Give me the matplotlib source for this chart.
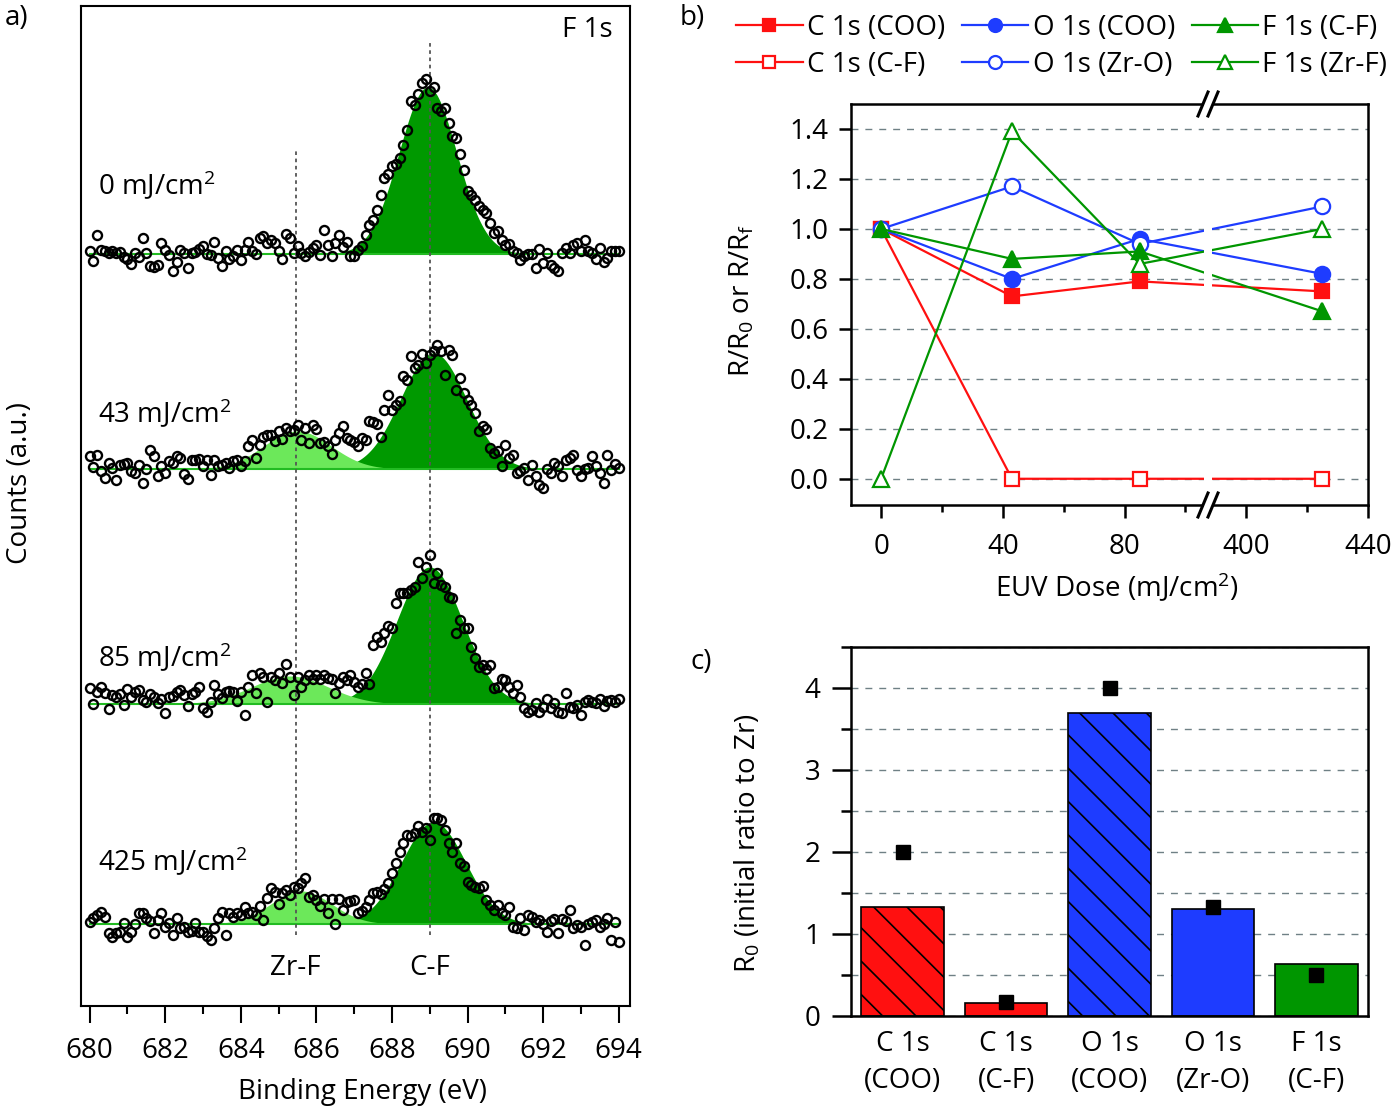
import numpy as np
import matplotlib
matplotlib.use("Agg")
import matplotlib.pyplot as plt
from matplotlib.lines import Line2D
from matplotlib.ticker import MultipleLocator

plt.rcParams['font.family'] = ['Open Sans', 'DejaVu Sans']
plt.rcParams['font.size'] = 20
plt.rcParams['mathtext.fontset'] = 'custom'
plt.rcParams['mathtext.rm'] = 'Open Sans'
plt.rcParams['mathtext.it'] = 'Open Sans:italic'
plt.rcParams['hatch.linewidth'] = 1.2

# ---- panel a: F 1s spectra (height above baseline, a.u.), 0.1 eV steps from 680 eV
e_start, e_step = 680.0, 0.1
spec_0 = [3, -7, 19, 4, 3, 1, 3, 1, 2, -3,
          -5, -10, 1, -3, 16, 1, -12, -13, -11, 11,
          4, -1, -17, -8, 4, 1, -14, 1, 2, 5,
          8, 0, -1, 12, -4, -12, 3, -5, -2, 4,
          -6, 4, 12, 3, 0, 16, 18, 11, 14, 11,
          3, -5, 20, 16, 1, 8, 1, -2, 2, 6,
          9, -1, 24, 9, -2, 11, 19, 7, 12, -2,
          -2, 4, 8, 19, 29, 34, 44, 59, 76, 80,
          88, 90, 96, 109, 124, 153, 149, 160, 171, 175,
          163, 167, 146, 143, 146, 131, 118, 116, 100, 84,
          63, 59, 54, 48, 44, 41, 31, 21, 23, 14,
          9, 10, 3, 1, -6, -2, 0, 0, -14, 5,
          -9, 1, -11, -14, -17, 1, 6, 1, 9, 11,
          3, 14, 3, 1, -5, 6, -8, -4, 3, 3,
          3]
spec_43 = [13, 2, 14, -2, -9, 6, 1, -11, 4, 5,
           6, -2, -4, 4, -14, 0, 19, 13, -7, 3,
           -4, 8, 6, 13, 11, -5, -10, 9, 9, 10,
           3, 9, -6, 9, 3, 4, 6, 1, 8, 9,
           3, 8, 23, 29, 11, 24, 32, 34, 34, 28,
           38, 30, 41, 38, 39, 44, 29, 41, 26, 44,
           40, 26, 27, 23, 15, 29, 36, 43, 31, 29,
           27, 23, 31, 29, 48, 47, 45, 32, 59, 74,
           59, 64, 68, 93, 89, 113, 101, 104, 115, 106,
           114, 118, 124, 118, 94, 119, 114, 79, 91, 76,
           69, 64, 56, 38, 43, 40, 21, 16, 18, 3,
           24, 11, 14, -4, -2, 1, -11, 4, -7, -16,
           -19, 0, -4, 6, 3, -7, 9, 11, 14, -1,
           -7, 0, 1, 13, 3, -4, -14, 14, -1, 5,
           1]
spec_85 = [16, 0, 12, 17, 11, -5, 9, 7, 10, -1,
           15, 7, 12, 14, 4, 2, 10, 7, 1, 5,
           -9, 7, 8, 12, 14, 9, -2, 10, 12, 17,
           -4, -8, 2, 19, 10, 6, 12, 13, 12, 3,
           12, -11, 17, 29, 11, 31, 27, 2, 27, 24,
           31, 21, 40, 27, 9, 27, 17, 24, 29, 25,
           29, 25, 29, 26, 25, 11, 21, 27, 24, 29,
           22, 17, 20, 31, 20, 59, 67, 62, 71, 78,
           76, 101, 111, 111, 111, 114, 117, 142, 126, 137,
           149, 121, 131, 119, 117, 107, 106, 71, 84, 76,
           76, 57, 46, 37, 39, 35, 39, 16, 17, 25,
           24, 17, 11, 19, 7, -4, -8, -6, 1, -8,
           -3, 5, -4, 1, -8, -9, 11, -3, -4, -1,
           -11, 2, 4, 2, 1, 5, -2, 3, 4, 2,
           5]
spec_425 = [2, 6, 9, 12, 7, -9, -13, -9, -8, 1,
            -13, -8, 0, 11, 11, 6, 3, -9, 4, 11,
            -3, 1, -11, 6, -4, -3, -8, -7, 1, -8,
            -8, -12, -16, -4, 6, 12, -11, 11, 7, 11,
            9, 17, 11, 12, 9, 18, 4, 26, 36, 32,
            20, 31, 34, 29, 37, 36, 41, 46, 27, 29,
            24, 18, 25, 11, 25, 0, 25, 14, 22, 23,
            24, 11, 13, 17, 24, 31, 32, 30, 35, 41,
            51, 61, 72, 81, 89, 88, 91, 98, 92, 96,
            84, 106, 106, 104, 94, 81, 72, 81, 61, 58,
            42, 39, 37, 36, 38, 24, 19, 14, 19, 11,
            9, 17, -3, -4, 6, -6, 9, 7, 2, 4,
            0, -8, 3, 5, -9, 5, 3, 14, -4, -1,
            -3, -21, 0, 2, 4, -3, 0, 6, -16, 2,
            -18]
spectra = [spec_0, spec_43, spec_85, spec_425]
dose_labels = ["0 mJ/cm$^2$", "43 mJ/cm$^2$", "85 mJ/cm$^2$", "425 mJ/cm$^2$"]
offsets = [752, 537, 302, 82]
label_y = [821, 593, 349, 144]

# fitted components: C-F and Zr-F (center eV, height, FWHM eV)
cf_center = [688.95, 689.1, 689.0, 689.1]
cf_height = [167, 116, 137, 102]
cf_fwhm = [1.8, 2.05, 2.05, 2.0]
zrf_center = [685.5, 685.5, 685.3, 685.6]
zrf_height = [0, 38, 28, 33]
zrf_fwhm = [2.0, 2.1, 2.4, 1.9]
zrf_pos, cf_pos = 685.45, 689.0

# ---- panel b: normalised ratios
dose = [0, 43, 85, 425]
c_coo = [1.0, 0.73, 0.79, 0.75]
c_cf = [1.0, 0.0, 0.0, 0.0]
o_coo = [1.0, 0.80, 0.96, 0.82]
o_zro = [1.0, 1.17, 0.94, 1.09]
f_cf = [1.0, 0.88, 0.91, 0.67]
f_zrf = [0.0, 1.39, 0.86, 1.0]
break_lo, break_hi = 108.8, 388.8   # dose range cut out of the axis

# ---- panel c: initial ratios to Zr
r0_names = ["C 1s\n(COO)", "C 1s\n(C-F)", "O 1s\n(COO)", "O 1s\n(Zr-O)", "F 1s\n(C-F)"]
r0_bar = [1.33, 0.16, 3.70, 1.31, 0.63]
r0_point = [2.0, 0.17, 4.0, 1.33, 0.5]

RED, BLUE, GREEN = '#ff1010', '#1e3cff', '#009600'
DARK_FILL, LIGHT_FILL = '#009900', '#6ce85a'
GRID = '#6f8085'

W, H = 1399, 1114
fig = plt.figure(figsize=(W / 100, H / 100), dpi=100)


def box(x0, y0, x1, y1):
    return [x0 / W, 1 - y1 / H, (x1 - x0) / W, (y1 - y0) / H]


def gauss(x, c, h, fwhm):
    return h * np.exp(-4 * np.log(2) * (x - c) ** 2 / fwhm ** 2)


# ================= panel a
ax_a = fig.add_axes(box(81, 6, 630, 1006))
ax_a.set_xlim(679.77, 694.3)
ax_a.set_ylim(0, 1000)
xf = np.linspace(679.77, 694.3, 900)
for i, h in enumerate(spectra):
    off = offsets[i]
    energy = e_start + e_step * np.arange(len(h))
    ax_a.fill_between(xf, off, off + gauss(xf, cf_center[i], cf_height[i], cf_fwhm[i]),
                      color=DARK_FILL, lw=0, zorder=2)
    if zrf_height[i] > 0:
        ax_a.fill_between(xf, off, off + gauss(xf, zrf_center[i], zrf_height[i], zrf_fwhm[i]),
                          color=LIGHT_FILL, lw=0, zorder=3)
    ax_a.plot([energy[0], energy[-1]], [off, off], color='#22bb22', lw=1.5, zorder=3)
    ax_a.plot(energy, off + np.array(h), 'o', mfc='none', mec='black', ms=6.5, mew=1.7, zorder=5)
    ax_a.text(680.22, label_y[i], dose_labels[i], ha='left', va='center', fontsize=20)

ax_a.axvline(zrf_pos, ymin=0.071, ymax=0.858, color='#555555', lw=1.3, ls=(0, (2, 2)), zorder=4)
ax_a.axvline(cf_pos, ymin=0.071, ymax=0.966, color='#555555', lw=1.3, ls=(0, (2, 2)), zorder=4)
ax_a.text(zrf_pos, 38, "Zr-F", ha='center', va='center', fontsize=20)
ax_a.text(cf_pos, 38, "C-F", ha='center', va='center', fontsize=20)
ax_a.text(693.85, 976, "F 1s", ha='right', va='center', fontsize=20)
ax_a.set_xticks(np.arange(680, 695, 2))
ax_a.xaxis.set_minor_locator(MultipleLocator(1))
ax_a.set_yticks([])
ax_a.tick_params(which='major', direction='out', length=12, width=1.5, pad=10)
ax_a.tick_params(which='minor', direction='out', length=6, width=1.5)
for s in ax_a.spines.values():
    s.set_linewidth(1.5)

# ================= panel b (broken x axis through a function scale)
ax_b = fig.add_axes(box(851, 104, 1368, 505))
gap = break_hi - break_lo


def fwd(x):
    x = np.asarray(x, dtype=float)
    return np.where(x <= break_lo, x, np.where(x >= break_hi, x - gap, break_lo))


def inv(x):
    x = np.asarray(x, dtype=float)
    return np.where(x <= break_lo, x, x + gap)


ax_b.set_xscale('function', functions=(fwd, inv))
series = [
    (c_coo, RED, 's', RED, 10, "C 1s (COO)"),
    (c_cf, RED, 's', 'white', 10, "C 1s (C-F)"),
    (o_coo, BLUE, 'o', BLUE, 11, "O 1s (COO)"),
    (o_zro, BLUE, 'o', 'white', 11, "O 1s (Zr-O)"),
    (f_cf, GREEN, '^', GREEN, 12, "F 1s (C-F)"),
    (f_zrf, GREEN, '^', 'white', 12, "F 1s (Zr-F)"),
]
handles = []
for vals, col, mk, fc, ms, lab in series:
    ln, = ax_b.plot(dose, vals, color=col, lw=1.6, marker=mk, mfc=fc, mec=col,
                    ms=ms, mew=1.6, label=lab, zorder=3)
    handles.append(ln)
ax_b.set_xlim(-9.9, 440)
ax_b.set_ylim(-0.105, 1.5)
ax_b.set_xticks([0, 40, 80, 400, 440])
ax_b.set_xticklabels(["0", "40", "80", "400", "440"])
ax_b.set_xticks([20, 60, 100, 420], minor=True)
ax_b.set_yticks(np.arange(0, 1.41, 0.2))
ax_b.set_yticklabels(["%.1f" % v for v in np.arange(0, 1.41, 0.2)])
ax_b.yaxis.grid(True, ls=(0, (5, 5)), color=GRID, lw=1)
ax_b.set_axisbelow(True)
ax_b.tick_params(which='major', direction='out', length=9, width=1.8, pad=7)
ax_b.tick_params(axis='x', which='major', pad=11)
ax_b.tick_params(which='minor', direction='out', length=5, width=1.8)
for s in ax_b.spines.values():
    s.set_linewidth(1.8)
# white gap at the break, then the // marks
ax_b.axvspan(break_lo - 2.8, break_lo + 1.5, ymin=-0.02, ymax=1.02, color='white',
             lw=0, zorder=6, clip_on=False)
for yc in (104, 505):
    for xc in (1203, 1213):
        fig.add_artist(Line2D([(xc - 5) / W, (xc + 5) / W],
                              [1 - (yc + 12) / H, 1 - (yc - 12) / H],
                              color='black', lw=2.2))

fig.legend(handles=handles, loc='upper left', bbox_to_anchor=(736 / W, 1 - 14 / H),
           ncol=3, frameon=False, handlelength=2.4, handletextpad=0.15,
           columnspacing=0.6, labelspacing=0.33, borderpad=0, borderaxespad=0,
           fontsize=20, markerscale=0.85)
fig.text(742 / W, 1 - 300 / H, "R/R$_\\mathregular{0}$ or R/R$_\\mathregular{f}$",
         rotation=90, ha='center', va='center', fontsize=20)
fig.text(1117 / W, 1 - 587 / H, "EUV Dose (mJ/cm$^2$)", ha='center', va='center', fontsize=20)

# ================= panel c
ax_c = fig.add_axes(box(851, 647, 1368, 1016))
xpos = np.arange(len(r0_bar))
bars = ax_c.bar(xpos, r0_bar, width=0.8, color=[RED, RED, BLUE, BLUE, GREEN],
                edgecolor='black', lw=1.2, zorder=2)
for b, hatch in zip(bars, ['\\', '', '\\', '', '']):
    b.set_hatch(hatch)
ax_c.plot(xpos, r0_point, 's', color='black', ms=10, zorder=4)
ax_c.set_xlim(-0.5, 4.5)
ax_c.set_ylim(0, 4.5)
ax_c.set_yticks([0, 1, 2, 3, 4])
ax_c.yaxis.set_minor_locator(MultipleLocator(0.5))
ax_c.yaxis.grid(True, which='both', ls=(0, (5, 5)), color=GRID, lw=1)
ax_c.set_axisbelow(True)
ax_c.set_xticks(xpos)
ax_c.set_xticklabels(r0_names, linespacing=1.45)
ax_c.tick_params(axis='x', length=0, pad=10)
ax_c.tick_params(axis='y', which='major', direction='out', length=14, width=1.8, pad=8)
ax_c.tick_params(axis='y', which='minor', direction='out', length=7, width=1.8)
for s in ax_c.spines.values():
    s.set_linewidth(1.8)
fig.text(748 / W, 1 - 843 / H, "R$_\\mathregular{0}$ (initial ratio to Zr)",
         rotation=90, ha='center', va='center', fontsize=20)

# ================= figure texts
fig.text(20 / W, 1 - 483 / H, "Counts (a.u.)", rotation=90, ha='center', va='center', fontsize=20)
fig.text(363 / W, 1 - 1092 / H, "Binding Energy (eV)", ha='center', va='center', fontsize=20)
fig.text(5 / W, 1 - 18 / H, "a)", ha='left', va='center', fontsize=20)
fig.text(680 / W, 1 - 18 / H, "b)", ha='left', va='center', fontsize=20)
fig.text(690 / W, 1 - 662 / H, "c)", ha='left', va='center', fontsize=20)

fig.savefig("out.png", dpi=100)
